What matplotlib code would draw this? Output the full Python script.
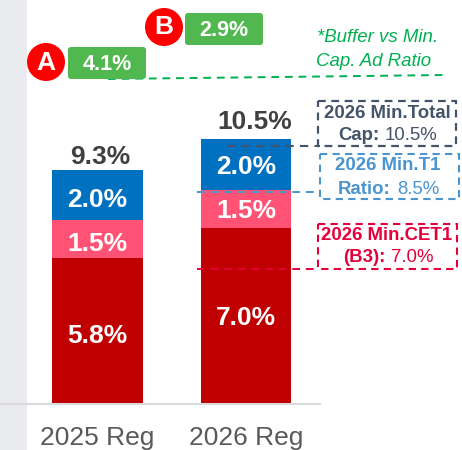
import matplotlib
matplotlib.use("Agg")
import matplotlib.pyplot as plt
from matplotlib.patches import Circle, FancyBboxPatch, Rectangle

categories = ["2025 Reg", "2026 Reg"]
cet1 = [5.8, 7.0]
t1 = [1.5, 1.5]
total = [2.0, 2.0]
totals = ["9.3%", "10.5%"]

RED = "#c00000"
PINK = "#ff5274"
BLUE = "#0070c0"
GREEN = "#50b84f"
DGREEN = "#00b050"
NAVY = "#44546a"
LBLUE = "#4a94d0"
CRIM = "#e4003a"
GREY = "#404040"

plt.rcParams["font.family"] = ["Liberation Sans", "DejaVu Sans"]

fig = plt.figure(figsize=(4.62, 4.5), dpi=100)

# pixel overlay, y down like the picture
ov = fig.add_axes([0, 0, 1, 1], zorder=3)
ov.set_xlim(0, 462)
ov.set_ylim(450, 0)
ov.axis("off")
ov.patch.set_alpha(0)

bg = fig.add_axes([0, 0, 1, 1], zorder=0)
bg.set_xlim(0, 462)
bg.set_ylim(450, 0)
bg.axis("off")
bg.add_patch(Rectangle((0, 0), 27, 450, fc="#e9ebee", ec="none"))
bg.add_patch(FancyBboxPatch((27, -40), 500, 490, boxstyle="round,pad=0,rounding_size=8", fc="white", ec="none"))

ax = fig.add_axes([0, 46 / 450, 320 / 462, 404 / 450], zorder=1)
ax.patch.set_alpha(0)
x = [0, 1]
ax.set_xlim(-0.657, 1.498)
ax.set_ylim(0, 16.03)
bottom2 = [a + b for a, b in zip(cet1, t1)]
ax.bar(x, cet1, width=0.61, color=RED)
ax.bar(x, t1, width=0.61, bottom=cet1, color=PINK)
ax.bar(x, total, width=0.61, bottom=bottom2, color=BLUE)
nudge = [0.2, 0.1]
total_x = [0.02, 0.06]
total_y = [0.5, 0.68]
for i in x:
    ax.text(i, cet1[i] / 2 - nudge[i], f"{cet1[i]:.1f}%", color="white", fontsize=19, fontweight="bold", ha="center", va="center")
    ax.text(i, cet1[i] + t1[i] / 2 - nudge[i], f"{t1[i]:.1f}%", color="white", fontsize=19, fontweight="bold", ha="center", va="center")
    ax.text(i, bottom2[i] + total[i] / 2 - nudge[i], f"{total[i]:.1f}%", color="white", fontsize=19, fontweight="bold", ha="center", va="center")
    ax.text(i + total_x[i], bottom2[i] + total[i] + total_y[i], totals[i], color=GREY, fontsize=19, fontweight="bold", ha="center", va="center")
ax.set_xticks(x)
ax.set_xticklabels(categories, fontsize=19, color="#595959")
ax.tick_params(axis="x", length=0, pad=16)
ax.set_yticks([])
for s in ["top", "left", "right"]:
    ax.spines[s].set_visible(False)
ax.spines["bottom"].set_color("#d9d9d9")
ax.spines["bottom"].set_linewidth(1.5)

# leader lines
ov.plot([108, 446], [79, 75], color=DGREEN, ls=(0, (4, 3)), lw=1.4, zorder=1)
ov.plot([227, 320], [146, 146], color=NAVY, ls=(0, (4, 3)), lw=1.5)
ov.plot([197, 318], [192, 192], color=LBLUE, ls=(0, (4, 3)), lw=1.4)
ov.plot([197, 318], [269, 269], color=CRIM, ls=(0, (4, 3)), lw=1.4)

# badges
for cx, cy, letter, bx, by, val in [(46, 62, "A", 68, 47, "4.1%"), (164, 27, "B", 185, 13, "2.9%")]:
    ov.add_patch(Circle((cx, cy), 19, fc="#ff0000", ec="none", zorder=3))
    ov.text(cx, cy + 0.5, letter, color="white", fontsize=19, fontweight="bold", ha="center", va="center", zorder=4)
    ov.add_patch(FancyBboxPatch((bx, by), 78, 32, boxstyle="round,pad=0,rounding_size=3", fc=GREEN, ec="none", zorder=3))
    ov.text(bx + 39, by + 17, val, color="white", fontsize=15.5, fontweight="bold", ha="center", va="center", zorder=4)

ov.text(317, 38, "*Buffer vs Min.", color=DGREEN, fontsize=13.4, style="italic", va="center")
ov.text(316, 61, "Cap. Ad Ratio", color=DGREEN, fontsize=13.4, style="italic", va="center")

# note boxes
ov.add_patch(Rectangle((318, 101), 138, 45, fc="none", ec=NAVY, ls=(0, (3.5, 2.5)), lw=1.6))
ov.add_patch(Rectangle((320, 154), 139, 45, fc="none", ec=LBLUE, ls=(0, (3.5, 2.5)), lw=1.5))
ov.add_patch(Rectangle((318, 224), 139, 45, fc="none", ec=CRIM, ls=(0, (3.5, 2.5)), lw=1.5))

ov.text(387, 114, "2026 Min.Total", color=NAVY, fontsize=13.4, fontweight="bold", ha="center", va="center")
ov.text(338, 136, "Cap:", color=NAVY, fontsize=13.4, fontweight="bold", va="center")
ov.text(385, 136, "10.5%", color=NAVY, fontsize=13.4, va="center")

ov.text(388, 166, "2026 Min.T1", color=LBLUE, fontsize=13.4, fontweight="bold", ha="center", va="center")
ov.text(338, 189, "Ratio:", color=LBLUE, fontsize=13.4, fontweight="bold", va="center")
ov.text(397, 189, "8.5%", color=LBLUE, fontsize=13.4, va="center")

ov.text(387, 236, "2026 Min.CET1", color=CRIM, fontsize=13.4, fontweight="bold", ha="center", va="center")
ov.text(343, 258, "(B3):", color=CRIM, fontsize=13.4, fontweight="bold", va="center")
ov.text(391, 258, "7.0%", color=CRIM, fontsize=13.4, va="center")

fig.savefig("out.png", dpi=100)
